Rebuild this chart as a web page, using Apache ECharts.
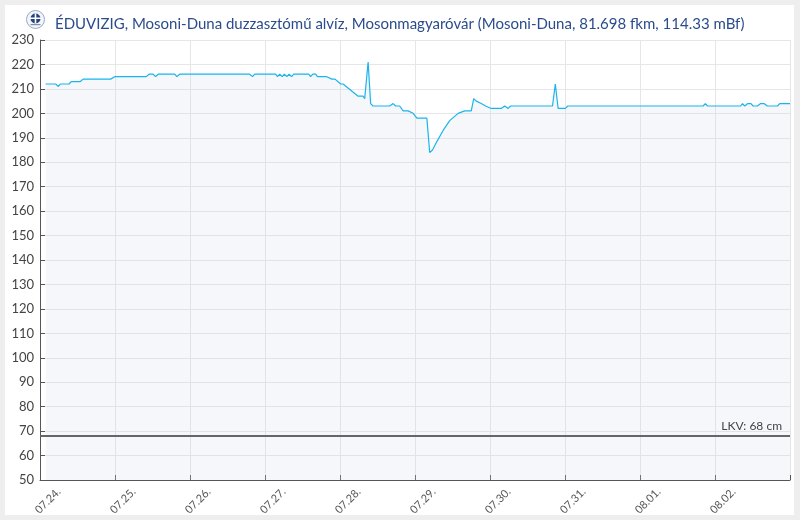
<!DOCTYPE html>
<html>
<head>
<meta charset="utf-8">
<script src="https://cdn.jsdelivr.net/npm/echarts@6/dist/echarts.min.js"></script>
<style>
  html, body { margin: 0; padding: 0; background: #eeeeee; }
  #panel { position: absolute; left: 5px; top: 5px; width: 789px; height: 510px; background: #ffffff; }
  #chart { position: absolute; left: 0; top: 0; width: 800px; height: 520px; }
</style>
</head>
<body>
<div id="panel"></div>
<div id="chart"></div>
<script>
// ---- data (hours since 07.24. 00:00, water level in cm) ----
const titleText = 'ÉDUVIZIG, Mosoni-Duna duzzasztómű alvíz, Mosonmagyaróvár (Mosoni-Duna, 81.698 fkm, 114.33 mBf)';
const dayLabels = ['07.24.', '07.25.', '07.26.', '07.27.', '07.28.', '07.29.', '07.30.', '07.31.', '08.01.', '08.02.'];
const hours = [
  1.8, 5.0, 5.9, 6.5, 9.3, 10.0, 12.9, 13.8, 22.6, 23.9,
  34.0, 34.9, 36.2, 37.0, 37.8, 43.1, 43.8, 44.7,
  67.1, 68.0, 68.7,
  75.4, 76.0, 76.7, 77.5, 78.2, 79.0, 79.7, 80.5, 81.2,
  86.0, 86.6, 87.3, 88.2, 88.8, 91.8, 93.4, 94.4, 95.3, 96.2, 97.0, 101.8, 103.4, 103.9,
  105.0, 105.8, 106.6, 111.9, 113.0, 113.8, 115.1, 116.2, 117.8, 119.4, 120.6, 123.8,
  124.7, 125.6, 126.8, 129.0, 131.1, 133.8, 135.9, 138.0, 138.8, 139.6, 141.2, 142.6, 144.4, 147.6, 148.7, 149.8, 150.6,
  164.0, 164.9, 165.8, 168.1, 168.9,
  212.2, 212.9, 213.6,
  224.2, 224.8, 225.5, 226.5, 227.5, 228.2, 229.6, 230.6, 231.7, 232.7, 236.0, 236.7, 240
];
const levels = [
  212, 212, 211, 212, 212, 213, 213, 214, 214, 215,
  215, 216, 216, 215, 216, 216, 215, 216,
  216, 215, 216,
  216, 215, 216, 215, 216, 215, 216, 215, 216,
  216, 215, 216, 216, 215, 215, 214, 214, 213, 212, 212, 207, 207, 206,
  221, 204, 203, 203, 204, 203, 203, 201, 201, 200, 198, 198,
  184, 185, 188, 193, 197, 200, 201, 201, 206, 205, 204, 203, 202, 202, 203, 202, 203,
  203, 212, 202, 202, 203,
  203, 204, 203,
  203, 204, 203, 204, 204, 203, 203, 204, 204, 203, 203, 204, 204
];
const lkvValue = 68;
const lkvLabel = 'LKV: 68 cm';
const yMin = 50, yMax = 230, yStep = 10;
const hoursPerDay = 24;
const totalHours = 240;

// ---- chart ----
const points = hours.map((h, i) => [h, levels[i]]);
const tickHours = [];
for (let h = 0; h <= totalHours; h += hoursPerDay) tickHours.push(h);
const LABEL_SHIFT = 6; // reference draws day labels slightly right of their tick
const labelHours = dayLabels.map((_, i) => i * hoursPerDay + LABEL_SHIFT);

const chart = echarts.init(document.getElementById('chart'), null, { renderer: 'canvas' });
chart.setOption({
  backgroundColor: 'transparent',
  animation: false,
  textStyle: { fontFamily: 'Lato' },
  title: {
    text: titleText,
    left: 50,
    top: 12,
    textStyle: { fontFamily: 'Lato', fontSize: 15, fontWeight: 'normal', color: '#2b4c8c' }
  },
  graphic: [
    {
      type: 'group', left: 26, top: 10,
      children: [
        { type: 'circle', shape: { cx: 9, cy: 9, r: 9 }, style: { fill: '#f3f5f9', stroke: '#9aa8c2', lineWidth: 1 } },
        { type: 'circle', shape: { cx: 9, cy: 8, r: 5 }, style: { fill: '#23457f' } },
        { type: 'rect', shape: { x: 3, y: 7, width: 12, height: 1.5 }, style: { fill: '#ffffff' } },
        { type: 'rect', shape: { x: 8.2, y: 3, width: 1.6, height: 10 }, style: { fill: '#ffffff' } },
        { type: 'rect', shape: { x: 4, y: 13.5, width: 10, height: 1.2 }, style: { fill: '#7f8fae' } }
      ]
    }
  ],
  grid: { left: 40, right: 10, top: 40, bottom: 40, outerBoundsMode: 'none' },
  xAxis: {
    type: 'value',
    min: 0,
    max: totalHours,
    interval: hoursPerDay,
    axisLine: { show: true, lineStyle: { color: '#555555', width: 1 } },
    axisTick: { show: true, inside: true, length: 5, customValues: tickHours, lineStyle: { color: '#555555' } },
    axisLabel: {
      customValues: labelHours,
      rotate: 45,
      margin: 10,
      color: '#555555',
      fontSize: 11,
      fontFamily: 'Lato',
      formatter: v => dayLabels[Math.round((v - LABEL_SHIFT) / hoursPerDay)] || ''
    },
    splitLine: { show: true, lineStyle: { color: '#e6e6e6', width: 1 } }
  },
  yAxis: {
    type: 'value',
    min: yMin,
    max: yMax,
    interval: yStep,
    axisLine: { show: true, lineStyle: { color: '#555555', width: 1 } },
    axisTick: { show: true, inside: true, length: 5, lineStyle: { color: '#555555' } },
    axisLabel: { color: '#444444', fontSize: 13, margin: 6, fontFamily: 'Lato' },
    splitLine: { show: true, lineStyle: { color: '#e6e6e6', width: 1 } }
  },
  series: [
    {
      type: 'line',
      data: points,
      showSymbol: false,
      symbol: 'none',
      lineStyle: { color: '#19b5ec', width: 1.2 },
      areaStyle: { color: 'rgba(215,220,235,0.32)', origin: 'start' },
      markLine: {
        silent: true,
        symbol: ['none', 'none'],
        data: [{ yAxis: lkvValue }],
        lineStyle: { color: '#666666', width: 2, type: 'solid' },
        label: { show: true, position: 'insideEndTop', distance: [8, 4], formatter: lkvLabel, color: '#444444', fontSize: 12, fontFamily: 'Lato' }
      }
    }
  ]
});
</script>
</body>
</html>
